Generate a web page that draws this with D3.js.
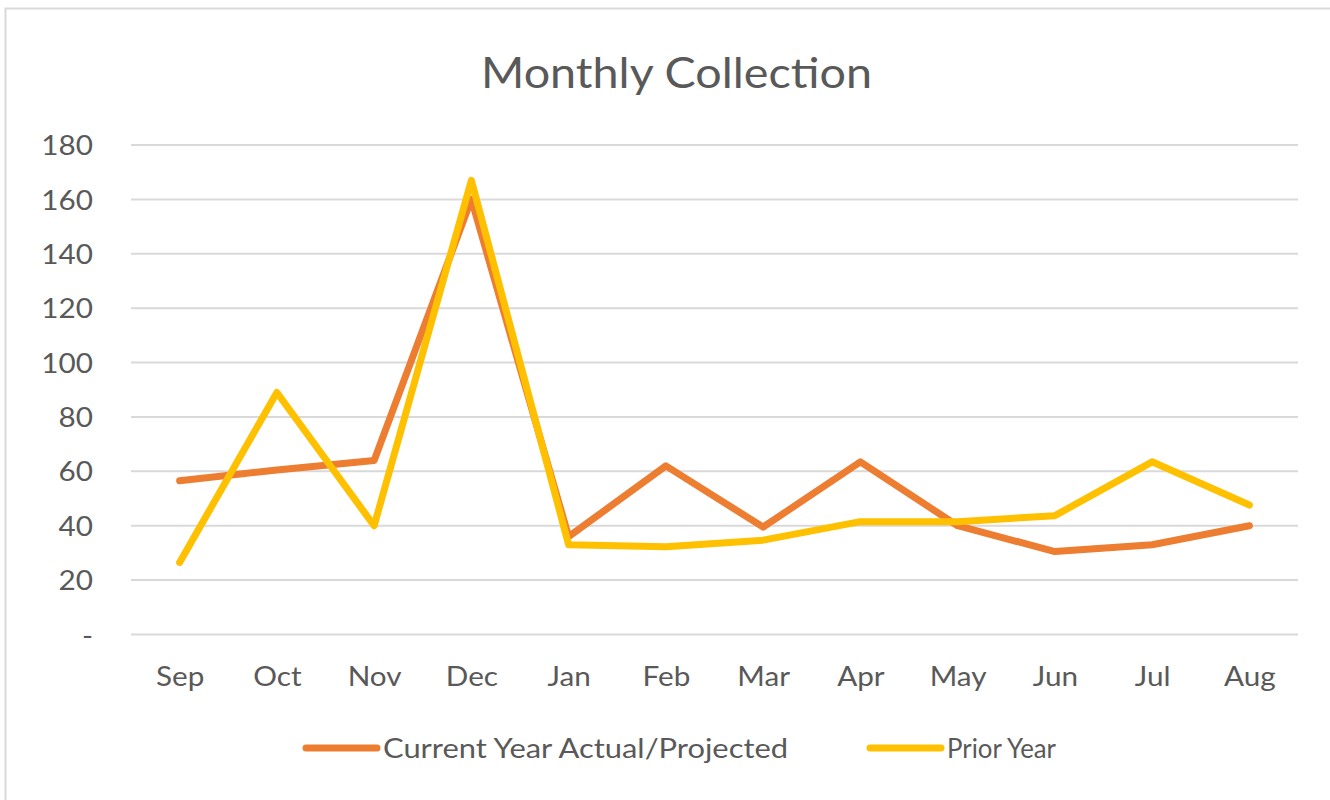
<!DOCTYPE html>
<html>
<head>
<meta charset="utf-8">
<script src="https://cdn.jsdelivr.net/npm/d3@7"></script>
<style>
  html, body { margin: 0; padding: 0; background: #fff; }
  svg { display: block; }
  text { font-family: Lato, "Open Sans", sans-serif; fill: #595959; }
</style>
</head>
<body>
<div id="chart"></div>
<script>
// chart data
const months = ["Sep", "Oct", "Nov", "Dec", "Jan", "Feb", "Mar", "Apr", "May", "Jun", "Jul", "Aug"];
const currentYear = [56.5, 60.5, 64, 160, 36, 62, 39.5, 63.5, 40, 30.5, 33, 40];
const priorYear = [26.5, 89, 40, 167, 33, 32.3, 34.7, 41.5, 41.5, 43.7, 63.5, 47.6];
const yTicks = [0, 20, 40, 60, 80, 100, 120, 140, 160, 180];
const seriesNames = ["Current Year Actual/Projected", "Prior Year"];

const W = 1330, H = 800;
const margin = {top: 145, right: 32, bottom: 165.5, left: 131};
const colors = ["#ED7D31", "#FFC000"];

// the original font is wider than Lato, so widen the labels a bit
function widen(sel, factor) {
  sel.each(function() {
    var len = this.getComputedTextLength();
    d3.select(this)
        .attr("textLength", len * factor)
        .attr("lengthAdjust", "spacingAndGlyphs");
  });
}

const svg = d3.select("#chart").append("svg")
    .attr("width", W)
    .attr("height", H);

// chart area border (right edge is off the picture)
svg.append("rect")
    .attr("x", 5.5).attr("y", 8.5)
    .attr("width", W + 10).attr("height", H)
    .attr("fill", "#fff")
    .attr("stroke", "#D9D9D9")
    .attr("stroke-width", 2);

var x = d3.scalePoint()
    .domain(months)
    .range([margin.left, W - margin.right])
    .padding(0.5);

var y = d3.scaleLinear()
    .domain([0, 180])
    .range([H - margin.bottom, margin.top]);

// gridlines
svg.append("g")
    .attr("class", "grid")
  .selectAll("line")
    .data(yTicks)
  .enter().append("line")
    .attr("x1", margin.left)
    .attr("x2", W - margin.right)
    .attr("y1", d => y(d))
    .attr("y2", d => y(d))
    .attr("stroke", "#D9D9D9")
    .attr("stroke-width", 2);

// y axis labels
var yAxis = d3.axisLeft(y)
    .tickValues(yTicks)
    .tickSize(0)
    .tickPadding(0)
    .tickFormat(d => d === 0 ? "-" : d);

svg.append("g")
    .attr("class", "axis y-axis")
    .attr("transform", "translate(93,1)")
    .call(yAxis)
    .call(g => g.select(".domain").remove())
    .call(g => g.selectAll("text")
        .attr("font-size", 27)
        .attr("fill", "#595959")
        .style("font-family", "Lato, sans-serif")
        .call(widen, 1.1));

// x axis labels
var xAxis = d3.axisBottom(x).tickSize(0).tickPadding(0);
svg.append("g")
    .attr("class", "axis x-axis")
    .attr("transform", "translate(0,667)")
    .call(xAxis)
    .call(g => g.select(".domain").remove())
    .call(g => g.selectAll("text")
        .attr("font-size", 27)
        .attr("fill", "#595959")
        .style("font-family", "Lato, sans-serif")
        .call(widen, 1.1));

// title
svg.append("text")
    .attr("x", 676.5)
    .attr("y", 88)
    .attr("text-anchor", "middle")
    .attr("font-size", 42)
    .attr("textLength", 391)
    .attr("lengthAdjust", "spacingAndGlyphs")
    .text("Monthly Collection");

// lines
var line = d3.line()
    .x((d, i) => x(months[i]))
    .y(d => y(d));

[currentYear, priorYear].forEach(function(values, k) {
  svg.append("path")
      .datum(values)
      .attr("fill", "none")
      .attr("stroke", colors[k])
      .attr("stroke-width", 7)
      .attr("stroke-linejoin", "round")
      .attr("stroke-linecap", "round")
      .attr("d", line);
});

// legend
var legendItems = [
  {name: seriesNames[0], color: colors[0], x: 303, w: 405},
  {name: seriesNames[1], color: colors[1], x: 867, w: 109}
];
var legend = svg.append("g").attr("class", "legend");
legendItems.forEach(function(d) {
  legend.append("line")
      .attr("x1", d.x + 3).attr("x2", d.x + 74)
      .attr("y1", 748).attr("y2", 748)
      .attr("stroke", d.color)
      .attr("stroke-width", 7)
      .attr("stroke-linecap", "round");
  legend.append("text")
      .attr("x", d.x + 80)
      .attr("y", 758)
      .attr("font-size", 27)
      .attr("textLength", d.w)
      .attr("lengthAdjust", "spacingAndGlyphs")
      .text(d.name);
});
</script>
</body>
</html>
